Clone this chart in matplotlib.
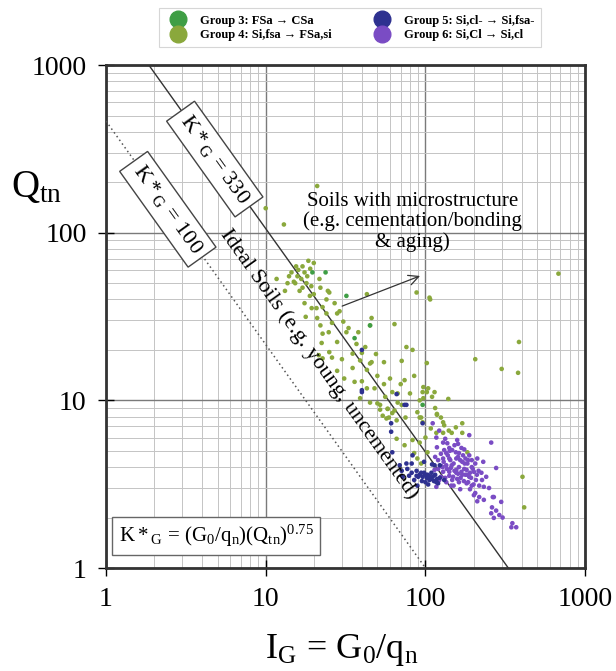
import matplotlib
matplotlib.use("Agg")
import matplotlib.pyplot as plt
from matplotlib.lines import Line2D
import numpy as np

plt.rcParams['font.family'] = ['Liberation Serif', 'DejaVu Serif']
plt.rcParams['mathtext.fontset'] = 'custom'
plt.rcParams['mathtext.rm'] = 'Liberation Serif'
plt.rcParams['mathtext.it'] = 'Liberation Serif:italic'

# ---------------- data ----------------
g3_ig = [19.6, 23.7, 32, 36, 45, 96]
g3_q = [58, 58, 42, 23.5, 28, 9.4]

g4_ig = [21, 10, 13, 18.5, 20, 17, 15.5, 14.5, 15.8, 16.7, 18.2, 21.7, 11.7, 13.7, 18, 19.3,
         24.5, 43, 680, 25, 88, 106, 17.5, 19.4, 20.8, 22.7, 24, 28, 29, 17.8, 30.6, 46, 45, 64,
         22, 24.8, 22.7, 32, 38, 22.4, 28, 37, 42, 25, 21.5, 22.7, 26, 30, 40, 49, 76, 83, 39,
         45, 46, 55, 71, 102, 35, 43, 40, 36, 43, 48, 62, 67, 74, 97, 102, 39, 45, 52, 58, 64,
         92, 67, 75, 107, 205, 385, 300, 380, 104, 114, 139, 96, 97, 118, 89, 92, 50, 52, 58,
         62, 54, 57, 59, 66, 71, 94, 96, 129, 118, 131, 117, 129, 146, 170, 66, 83, 92, 103,
         183, 85, 89, 94, 74, 405, 415, 15.3, 16.3, 13.2, 18.9,
         16, 17.5, 19, 14, 15, 17, 22, 20, 24, 27, 21, 26, 33, 35, 28, 31, 50, 55, 60, 80, 85,
         70, 56, 110, 115, 125, 108, 100, 140, 155, 170]
g4_q = [190, 140, 112, 68, 66, 63, 63, 58, 55, 53, 55, 53, 53, 50, 50, 48,
        45, 43, 57, 44, 44, 41, 38, 35.5, 35.5, 36, 33, 33, 34, 31.5, 29.5, 31, 28, 28.5,
        28, 25.5, 25, 25.5, 25.5, 22, 22.3, 21.7, 20.8, 19.4, 18.6, 17.8, 18, 17.6, 19.2, 18.9, 20.8, 20, 17.3,
        16.6, 16.9, 16.9, 17.2, 16.7, 15.6, 15.2, 13, 12.9, 11.8, 11.8, 11.2, 11, 13.2, 12, 11.2, 10.3, 9.7, 9.4, 8.9, 8.7,
        10, 9.7, 7.9, 40, 17.6, 22.3, 15.4, 14.6, 11.8, 11.2, 10.2, 11.2, 10.3, 8.3, 8.5, 7.9, 9.6, 8.8, 8.9,
        8.4, 8.1, 7.8, 7.9, 7.6, 9.4, 7.9, 7.4, 7.4, 8.2, 7.1, 6.4, 6.4, 6.4, 6.4, 5.9, 5.8, 5.6, 4.9,
        4.9, 4.85, 4.5, 4.2, 5.4, 3.5, 2.3, 50, 45, 45, 42,
        60, 58, 61, 55, 51, 47, 47, 43, 40, 38, 31, 29, 27, 19, 15, 13.5, 14, 12.5, 13.5, 11, 14,
        12.5, 10.5, 10.5, 9, 7.9, 6.8, 6, 6.6, 6.9, 7.3]

g5_ig = [40, 40, 66, 74, 61, 76, 96, 62, 76, 82, 71, 72, 92, 96, 102, 106, 111, 98, 109, 117,
         103, 83, 114, 98, 123, 88, 85, 79, 123, 131, 89, 69, 61, 40, 110,
         90, 95, 100, 105, 108, 113, 100, 94, 88, 115, 120, 82, 77, 104, 118]
g5_q = [20, 11.5, 10.9, 9.4, 7.3, 9.4, 7.3, 4.9, 4.2, 4.2, 3.8, 3.5, 3.6, 3.5, 3.45, 3.35, 3.5, 3.7, 3.7, 3.25,
        3.6, 4.7, 4.1, 4.3, 4.1, 3.8, 3.35, 3.55, 3.45, 3.35, 3.1, 4.1, 6.5, 11.2, 4.15,
        3.5, 3.3, 3.6, 3.55, 3.4, 3.3, 3.25, 3.7, 3.55, 3.6, 3.2, 3.7, 3.9, 3.15, 3.4]

g6_ig = [111, 122, 117, 129, 137, 147, 162, 188, 258, 211, 277, 135, 129, 141, 156, 170, 183, 135,
         146, 162, 181, 195, 129, 141, 156, 170, 188, 201, 224, 226, 217, 122, 135, 147, 162, 181,
         195, 145, 117, 201, 217, 232, 211, 268, 261, 277, 258, 290, 304, 268, 350, 345, 370, 232,
         207, 156, 176, 264, 298, 141, 152, 131, 168, 188, 158, 133, 118, 178, 149, 193, 126, 114,
         115, 120, 125, 130, 138, 143, 150, 155, 160, 165, 172, 178, 185, 120, 128, 136, 144, 152,
         160, 168, 175, 183, 190, 198, 205, 210, 125, 133, 141, 158, 166, 174, 185, 200, 150, 165,
         190, 142, 160, 175, 195, 230, 240, 215, 250, 205]
g6_q = [7.3, 6.6, 6.0, 5.6, 5.55, 5.05, 4.85, 6.2, 5.6, 4.5, 3.95, 4.85, 4.5, 4.5, 4.5, 4.3, 4.2, 4.1,
        4.1, 4.0, 3.85, 4.0, 3.75, 3.75, 3.7, 3.6, 3.5, 3.75, 3.7, 3.35, 3.1, 3.35, 3.25, 3.35, 3.25, 3.2,
        3.1, 3.1, 3.05, 2.72, 2.65, 2.55, 2.5, 2.65, 2.3, 2.2, 2.12, 2.07, 2.0, 1.99, 1.85, 1.75, 1.75, 3.05,
        3.35, 3.85, 4.2, 2.65, 2.48, 5.2, 5.4, 5.05, 5.2, 4.7, 5.8, 5.9, 5.25, 3.6, 3.5, 3.45, 4.05, 3.85,
        4.6, 4.4, 4.8, 4.3, 4.7, 4.4, 4.2, 4.9, 4.6, 4.4, 4.7, 4.5, 4.4, 3.9, 4.0, 3.9, 3.95, 3.8,
        3.65, 3.75, 3.9, 3.6, 3.7, 3.9, 4.2, 3.6, 3.5, 3.45, 3.55, 3.4, 3.45, 3.3, 3.25, 3.15, 3.1, 2.95,
        2.95, 5.0, 5.5, 5.1, 4.4, 4.3, 3.5, 3.8, 3.0, 2.8]

group_labels = ["Group 3: FSa \u2192 CSa", "Group 4: Si,fsa \u2192 FSa,si",
                "Group 5: Si,cl- \u2192 Si,fsa-", "Group 6: Si,Cl \u2192 Si,cl"]
group_colors = ["#3f9e45", "#8aa83c", "#2e3190", "#7a4cc4"]

k_values = [330, 100]
k_exponent = 0.75

# ---------------- figure ----------------
fig = plt.figure(figsize=(6.16, 6.71), dpi=100)
ax = fig.add_axes([0.172, 0.1535, 0.778, 0.7495])
ax.set_xscale('log')
ax.set_yscale('log')
ax.set_xlim(1, 1000)
ax.set_ylim(1, 1000)

ax.grid(True, which='major', color='#7a7a7a', lw=1.0, zorder=0)
ax.grid(True, which='minor', color='#c4c4c4', lw=0.7, zorder=0)
ax.set_axisbelow(True)
for s in ax.spines.values():
    s.set_linewidth(2.0)
    s.set_color('#333333')
ax.tick_params(which='major', direction='inout', length=12, width=1, labelsize=20, pad=8)
ax.tick_params(which='minor', length=0)
ax.set_xticks([1, 10, 100, 1000])
ax.set_yticks([1, 10, 100, 1000])
ax.set_xticklabels(['1', '10', '100', '1000'])
ax.set_yticklabels(['1', '10', '100', '1000'])

# K* lines
ig_line = np.logspace(-0.5, 3, 200)
ax.plot(ig_line, (k_values[0] / ig_line) ** (1 / k_exponent), color='#333333', lw=1.0, zorder=3)
ax.plot(ig_line, (k_values[1] / ig_line) ** (1 / k_exponent), color='#555555', lw=1.1,
        ls=(0, (1, 2.0)), zorder=3)

# scatter
kw = dict(s=11, zorder=4, edgecolors='none')
ax.scatter(g4_ig, g4_q, c=group_colors[1], **kw)
ax.scatter(g3_ig, g3_q, c=group_colors[0], **kw)
ax.scatter(g6_ig, g6_q, c=group_colors[3], **kw)
ax.scatter(g5_ig, g5_q, c=group_colors[2], **kw)

# rotation angle along lines (in display space)
p1 = ax.transData.transform((10, (330 / 10) ** (1 / k_exponent)))
p2 = ax.transData.transform((100, (330 / 100) ** (1 / k_exponent)))
ang = np.degrees(np.arctan2(p2[1] - p1[1], p2[0] - p1[0]))

box = dict(boxstyle='square,pad=0.3', fc='white', ec='#444444', lw=1.0)
ax.text(4.8, 275, r'$\mathrm{K*_{G}\,=\,330}$', rotation=ang, rotation_mode='anchor',
        ha='center', va='center', fontsize=16, bbox=box, zorder=5)
ax.text(2.44, 138, r'$\mathrm{K*_{G}\,=\,100}$', rotation=ang, rotation_mode='anchor',
        ha='center', va='center', fontsize=16, bbox=box, zorder=5)
ax.text(21.5, 16.5, 'Ideal Soils (e.g. young, uncemented)', rotation=ang,
        rotation_mode='anchor', ha='center', va='center', fontsize=16, zorder=5)

ax.text(83, 116, 'Soils with microstructure\n(e.g. cementation/bonding\n& aging)',
        ha='center', va='center', fontsize=15, linespacing=1.05, zorder=5)
ax.annotate('', xy=(96, 56), xytext=(29, 36),
            arrowprops=dict(arrowstyle='->', color='#333333', lw=0.9,
                            mutation_scale=18), zorder=5)

ax.text(4.9, 1.55, r'$\mathrm{K*_{G}\,=\,(G_{0}/q_{n})(Q_{tn})^{0.75}}$',
        ha='center', va='center', fontsize=15,
        bbox=dict(boxstyle='square,pad=0.3', fc='white', ec='#666666', lw=1.0), zorder=5)

# axis labels
fig.text(0.555, 0.005, r'$\mathrm{I_{G}\,=\,G_{0}/q_{n}}$', ha='center', va='bottom', fontsize=26)
fig.text(0.06, 0.72, r'$\mathrm{Q_{tn}}$', ha='center', va='center', fontsize=28)

# legend
handles = [Line2D([], [], marker='o', ls='none', color=c, markersize=12) for c in group_colors]
leg = fig.legend(handles, group_labels, ncol=2, loc='upper center',
                 bbox_to_anchor=(0.568, 0.997), frameon=True, fancybox=False,
                 prop={'family': ['Liberation Serif', 'DejaVu Serif'], 'weight': 'bold', 'size': 9},
                 handletextpad=0.8, columnspacing=3.0, labelspacing=0.2, borderpad=0.5,
                 edgecolor='#cccccc')
leg.get_frame().set_linewidth(0.8)

fig.savefig('out.png', dpi=100)
